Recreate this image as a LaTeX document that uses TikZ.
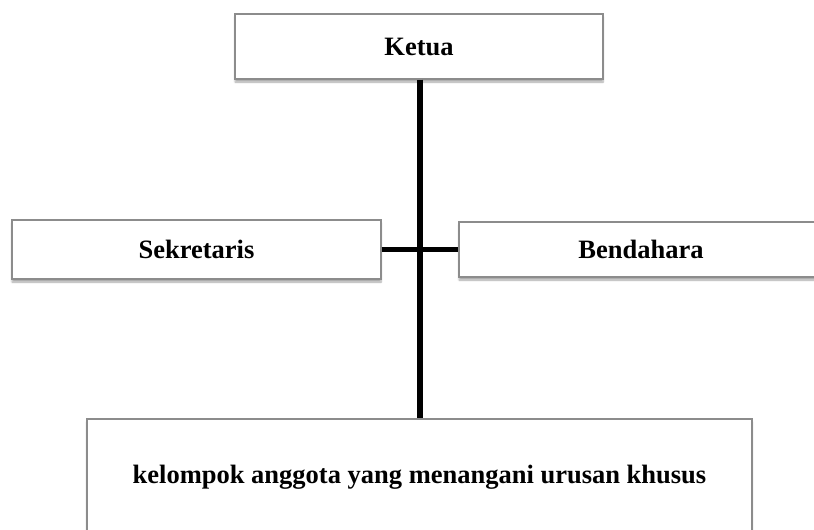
\documentclass[tikz,border=0pt]{standalone}
\usepackage{fontspec}
\setmainfont{Liberation Serif}
\usetikzlibrary{shadows.blur}
\begin{document}
\begin{tikzpicture}[x=1pt,y=-1pt,
  box/.style={draw=black!45, line width=1.3pt, fill=white, inner sep=0pt,
    blur shadow={shadow xshift=0pt, shadow yshift=-3pt, shadow blur steps=6, shadow opacity=35},
    font=\fontsize{26.5}{30}\selectfont\bfseries},
  link/.style={line width=5.5pt, black}]
\useasboundingbox (0,0) rectangle (814,530);
\clip (0,0) rectangle (814,530);
\node[box, minimum width=368pt, minimum height=65pt] (ketua) at (419,46.5) {Ketua};
\node[box, minimum width=369pt, minimum height=59pt] (sek) at (196.5,249.5) {Sekretaris};
\node[box, minimum width=364pt, minimum height=55pt] (ben) at (641,249.5) {Bendahara};
\node[box, minimum width=665pt, minimum height=116pt] (kel) at (419.5,477) {kelompok anggota yang menangani urusan khusus};
\draw[link] (sek.east) -- (ben.west);
\draw[link] ([xshift=1pt]ketua.south) -- ([xshift=1pt]ketua.south |- kel.north);
\end{tikzpicture}
\end{document}
